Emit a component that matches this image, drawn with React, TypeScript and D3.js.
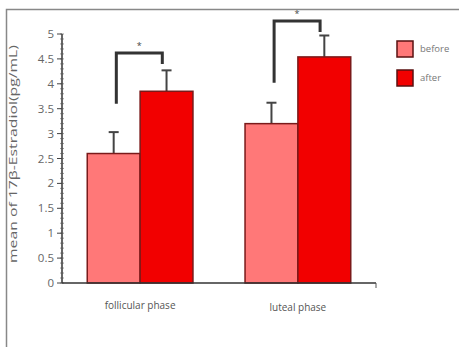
import React from "react";
import * as d3 from "d3";

const phases = ["follicular phase", "luteal phase"];
const groups = ["before", "after"];
const means = [
  [2.6, 3.85],
  [3.2, 4.54],
];
const errors = [
  [0.43, 0.42],
  [0.42, 0.43],
];
// significance brackets: [left end, top, right end] in data units
const brackets = [
  [3.6, 4.62, 4.4],
  [4.02, 5.26, 5.04],
];
const yTicks = [0, 0.5, 1, 1.5, 2, 2.5, 3, 3.5, 4, 4.5, 5];
const colors = ["#ff7878", "#f20000"];

const W = 459;
const H = 347;

export default function App() {
  const x = d3.scaleBand().domain(phases).range([62, 376]).paddingInner(0.33).paddingOuter(0.16);
  const xIn = d3.scaleBand().domain(groups).range([0, x.bandwidth()]);
  const y = d3.scaleLinear().domain([0, 5]).range([283, 34]);
  const minor = d3.range(0, 5.001, 0.1);
  const font = "'Open Sans', 'DejaVu Sans', sans-serif";

  return (
    <svg width={W} height={H} style={{ position: "absolute", left: 0, top: 0 }} fontFamily={font}>
      <rect x={0} y={0} width={W} height={H} fill="#fff" />
      {/* frame */}
      <path d={`M6.5,${H}V9.5H${W}`} fill="none" stroke="#888" strokeWidth={1.5} />

      {/* y axis */}
      <line x1={62} x2={62} y1={y(5)} y2={y(0)} stroke="#333" strokeWidth={1.5} />
      {minor.map((t, i) => (
        <line key={i} x1={60} x2={64} y1={y(t)} y2={y(t)} stroke="#555" strokeWidth={0.6} />
      ))}
      {yTicks.map((t) => (
        <g key={t}>
          <line x1={57} x2={62} y1={y(t)} y2={y(t)} stroke="#444" strokeWidth={1} />
          <text x={54} y={y(t)} dy="0.35em" textAnchor="end" fontSize={11.5} fill="#666">
            {t}
          </text>
        </g>
      ))}
      <text
        transform={`translate(17,154) rotate(-90)`}
        textAnchor="middle"
        fontSize={11.5}
        fill="#666"
        textLength={218}
        lengthAdjust="spacingAndGlyphs"
      >
        mean of 17β-Estradiol(pg/mL)
      </text>

      {/* bars */}
      {phases.map((p, i) =>
        groups.map((g, j) => {
          const bx = x(p)! + xIn(g)!;
          const bw = xIn.bandwidth();
          const cx = bx + bw / 2;
          const top = y(means[i][j] + errors[i][j]);
          return (
            <g key={p + g}>
              <line x1={cx} x2={cx} y1={y(means[i][j])} y2={top} stroke="#444" strokeWidth={2} />
              <line x1={cx - 5} x2={cx + 5} y1={top} y2={top} stroke="#444" strokeWidth={2} />
              <rect
                x={bx}
                y={y(means[i][j])}
                width={bw}
                height={y(0) - y(means[i][j])}
                fill={colors[j]}
                stroke="#7a1a1a"
                strokeWidth={1.5}
              />
            </g>
          );
        })
      )}

      {/* x axis */}
      <line x1={62} x2={376} y1={283} y2={283} stroke="#333" strokeWidth={1.5} />
      <line x1={376} x2={376} y1={283} y2={288} stroke="#555" strokeWidth={1} />
      {phases.map((p, i) => (
        <text
          key={p}
          x={x(p)! + x.bandwidth() / 2}
          y={309 + i * 2}
          textAnchor="middle"
          fontSize={10}
          fill="#555"
        >
          {p}
        </text>
      ))}

      {/* significance brackets */}
      {phases.map((p, i) => {
        const lx = x(p)! + xIn.bandwidth() * 0.55;
        const rx = x(p)! + xIn.bandwidth() * 1.42;
        const [l, t, r] = brackets[i];
        return (
          <g key={"b" + p}>
            <path
              d={`M${lx},${y(l)}V${y(t)}H${rx}V${y(r)}`}
              fill="none"
              stroke="#333"
              strokeWidth={3}
            />
            <text x={(lx + rx) / 2} y={y(t) - 4} textAnchor="middle" fontSize={9} fill="#444">
              *
            </text>
          </g>
        );
      })}

      {/* legend */}
      {groups.map((g, j) => (
        <g key={g} transform={`translate(397,${41 + j * 29})`}>
          <rect width={16} height={16} fill={colors[j]} stroke="#5a1010" strokeWidth={1.5} />
          <text x={23} y={8} dy="0.35em" fontSize={9.5} fill="#777">
            {g}
          </text>
        </g>
      ))}
    </svg>
  );
}
